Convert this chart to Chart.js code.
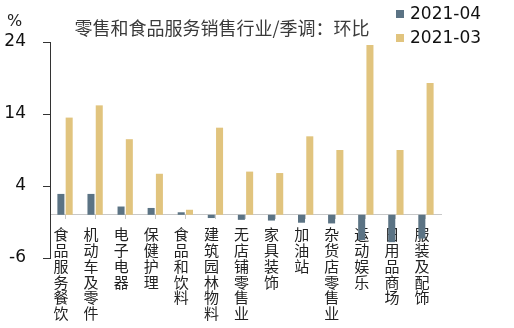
<!DOCTYPE html>
<html lang="zh">

<head>
    <meta charset="UTF-8" />
    <title>零售和食品服务销售行业/季调：环比</title>
    <script src="https://cdn.jsdelivr.net/npm/chart.js@4.4.0/dist/chart.umd.min.js"></script>
    <style>
        html, body { margin: 0; padding: 0; background: #fff; }
        #wrap { width: 514px; height: 328px; }
    </style>
</head>

<body>
    <div id="wrap"><canvas id="myChart" width="514" height="328"></canvas></div>

    <script>
        // data
        const categories = ['食品服务餐饮', '机动车及零件', '电子电器', '保健护理', '食品和饮料', '建筑园林物料',
            '无店铺零售业', '家具装饰', '加油站', '杂货店零售业', '运动娱乐', '日用品商场', '服装及配饰'];
        const apr2021 = [2.9, 2.9, 1.15, 0.95, 0.35, -0.45, -0.7, -0.8, -1.1, -1.2, -3.5, -3.8, -3.3];
        const mar2021 = [13.5, 15.2, 10.5, 5.7, 0.7, 12.1, 6.0, 5.8, 10.9, 9.0, 23.6, 9.0, 18.3];
        const seriesNames = ['2021-04', '2021-03'];
        const yTicks = [24, 14, 4, -6];
        const title = '零售和食品服务销售行业/季调：环比';

        const cjk = '"Noto Sans CJK SC", sans-serif';
        const num = '"DejaVu Sans", sans-serif';

        // title, unit and the stacked legend are drawn by hand
        const extras = {
            id: 'extras',
            afterDraw(chart) {
                const c = chart.ctx;
                c.save();
                c.textBaseline = 'middle';
                c.fillStyle = '#3a3a3a';
                c.font = '18px ' + cjk;
                c.textAlign = 'center';
                c.fillText(title, 222, 28);

                c.fillStyle = '#222';
                c.font = '16px ' + num;
                c.textAlign = 'left';
                c.fillText('%', 7, 22);

                c.font = '17px ' + num;
                chart.data.datasets.forEach((ds, i) => {
                    const y = 14 + i * 24;
                    c.fillStyle = ds.backgroundColor;
                    c.fillRect(396, y - 4, 8, 8);
                    c.fillStyle = '#111';
                    c.fillText(ds.label, 410, y + 1);
                });
                c.restore();
            }
        };

        const ctx = document.getElementById('myChart').getContext('2d');
        const myChart = new Chart(ctx, {
            type: 'bar',
            data: {
                labels: categories.map(s => s.split('')),
                datasets: [{
                    label: seriesNames[0],
                    data: apr2021,
                    backgroundColor: '#5b7384'
                }, {
                    label: seriesNames[1],
                    data: mar2021,
                    backgroundColor: '#e1c47e'
                }]
            },
            options: {
                responsive: false,
                animation: false,
                categoryPercentage: 0.55,
                barPercentage: 0.85,
                layout: { padding: { top: 42, right: 73, bottom: 70, left: 0 } },
                plugins: {
                    legend: { display: false },
                    title: { display: false },
                    tooltip: { enabled: false }
                },
                scales: {
                    x: {
                        position: { y: 0 },
                        z: 1,
                        offset: true,
                        grid: {
                            offset: false,
                            drawOnChartArea: false,
                            tickLength: 4,
                            color: '#c8c8c8'
                        },
                        border: { color: '#c8c8c8' },
                        ticks: {
                            autoSkip: false,
                            maxRotation: 0,
                            padding: 8,
                            labelOffset: -4,
                            color: '#222',
                            font: { family: cjk, size: 15, lineHeight: 1.05 }
                        }
                    },
                    y: {
                        min: -6,
                        max: 24,
                        afterFit(scale) { scale.width = 50; },
                        afterBuildTicks(scale) {
                            scale.ticks = yTicks.map(v => ({ value: v }));
                        },
                        grid: {
                            drawOnChartArea: false,
                            tickLength: 7,
                            color: '#333'
                        },
                        border: { color: '#333' },
                        ticks: {
                            padding: 17,
                            color: '#111',
                            font: { family: num, size: 17 }
                        }
                    }
                }
            },
            plugins: [extras]
        });
    </script>
</body>

</html>
